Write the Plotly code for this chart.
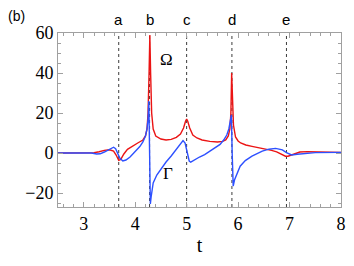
import plotly.graph_objects as go

# Omega (red) curve samples
t_omega = [2.5, 3.0, 3.2, 3.3, 3.4, 3.5, 3.58, 3.63, 3.68, 3.72, 3.78, 3.85, 3.95, 4.05, 4.15,
           4.2, 4.23, 4.25, 4.27, 4.285, 4.30, 4.32, 4.35, 4.4, 4.5, 4.6, 4.7, 4.8, 4.88, 4.94,
           4.98, 5.0, 5.02, 5.06, 5.12, 5.2, 5.3, 5.45, 5.6, 5.7, 5.76, 5.81, 5.84, 5.86, 5.875,
           5.89, 5.91, 5.95, 6.0, 6.05, 6.15, 6.27, 6.4, 6.53, 6.65, 6.75, 6.85, 6.92, 6.97,
           7.04, 7.12, 7.2, 7.35, 7.5, 7.7, 8.0]
omega = [0, 0, 0.1, 0.6, 1.3, 1.6, 1.0, -1.0, -3.7, -3.2, -0.5, 1.8, 3.6, 5.0, 6.5,
         8.5, 12, 20, 40, 59, 40, 20, 12, 8.5, 7.0, 6.5, 6.8, 7.8, 9.5, 12.5,
         16, 17, 16, 12.5, 9, 7.5, 6.5, 5.8, 5.5, 5.8, 6.5, 8.5, 12, 20, 40,
         25, 14, 8, 6, 5, 4, 3.3, 2.7, 2.1, 1.3, 0.6, -0.6, -1.6, -1.6,
         -0.9, 0, 0.5, 0.7, 0.6, 0.4, 0.3]

# Gamma (blue) curve samples
t_gamma = [2.5, 3.0, 3.15, 3.25, 3.32, 3.4, 3.5, 3.58, 3.62, 3.66, 3.7, 3.76, 3.82, 3.9, 4.0,
           4.09, 4.15, 4.2, 4.23, 4.25, 4.265, 4.28, 4.295, 4.31, 4.35, 4.42, 4.5, 4.6, 4.7,
           4.8, 4.88, 4.93, 4.97, 5.01, 5.05, 5.08, 5.13, 5.25, 5.35, 5.45, 5.55, 5.65, 5.72,
           5.78, 5.82, 5.85, 5.87, 5.885, 5.905, 5.93, 5.98, 6.04, 6.14, 6.27, 6.47, 6.6, 6.73,
           6.86, 6.94, 7.04, 7.15, 7.31, 7.5, 8.0]
gamma = [0, 0, 0, -0.5, -0.4, 0.5, 2.0, 2.9, 2.2, 0, -2.5, -4.0, -3.5, -2.0, 0.5,
         3.2, 5.5, 8.5, 12, 17, 26, 0, -25.5, -22, -15, -11, -8, -4.5, -1.5,
         2, 5, 6.2, 5, 0, -4, -4.6, -3.8, -2, -0.8, 1, 2.5, 4.3, 6.5,
         9, 12, 17, 19, 0, -16.5, -13.5, -10.5, -6.6, -3.8, -1.6, 0.9, 1.9, 2.3,
         1.6, 0.2, -1.0, -0.6, -0.2, 0.2, 0.3]

# marker lines
mark_t = [3.68, 4.28, 5.0, 5.88, 6.94]
mark_labels = ["a", "b", "c", "d", "e"]

x_ticks = [3, 4, 5, 6, 7, 8]
y_ticks = [-20, 0, 20, 40, 60]

fig = go.Figure()
fig.add_trace(go.Scatter(x=t_omega, y=omega, mode="lines",
                         line=dict(color="rgb(235,20,20)", width=1.4), showlegend=False))
fig.add_trace(go.Scatter(x=t_gamma, y=gamma, mode="lines",
                         line=dict(color="rgb(45,80,255)", width=1.4), showlegend=False))

for t, lab in zip(mark_t, mark_labels):
    fig.add_shape(type="line", x0=t, x1=t, y0=0, y1=1, xref="x", yref="paper",
                  line=dict(color="rgb(60,60,60)", width=1, dash="dot"), layer="below")
    fig.add_annotation(x=t, y=1, xref="x", yref="paper", text=lab, showarrow=False,
                       yanchor="bottom", yshift=3,
                       font=dict(family="Liberation Sans", size=15, color="black"))

fig.add_annotation(x=4.6, y=47, text="Ω", showarrow=False,
                   font=dict(family="Liberation Serif", size=17, color="black"))
fig.add_annotation(x=4.63, y=-10, text="Γ", showarrow=False,
                   font=dict(family="Liberation Serif", size=17, color="black"))
fig.add_annotation(x=-0.148, y=1.10, xref="paper", yref="paper", text="(b)", showarrow=False,
                   xanchor="center", yanchor="middle",
                   font=dict(family="Liberation Sans", size=14, color="black"))

axis_common = dict(showgrid=False, zeroline=False, showline=True, linecolor="rgb(160,160,160)",
                   linewidth=1, mirror="allticks", ticks="inside", ticklen=5,
                   tickcolor="rgb(160,160,160)",
                   tickfont=dict(family="Liberation Serif", size=18, color="black"))

fig.update_xaxes(range=[2.5, 8.0], tickvals=x_ticks,
                 minor=dict(dtick=0.2, tick0=3, ticks="inside", ticklen=3,
                            tickcolor="rgb(160,160,160)"),
                 title=dict(text="t", font=dict(family="Liberation Serif", size=20, color="black"),
                            standoff=5),
                 **axis_common)
fig.update_yaxes(range=[-27, 60], tickvals=y_ticks,
                 minor=dict(dtick=5, tick0=0, ticks="inside", ticklen=3,
                            tickcolor="rgb(160,160,160)"),
                 **axis_common)

fig.update_layout(width=346, height=258, margin=dict(l=50, r=13, t=25, b=59, autoexpand=False),
                  plot_bgcolor="white", paper_bgcolor="white")

fig.write_html("out.html")
